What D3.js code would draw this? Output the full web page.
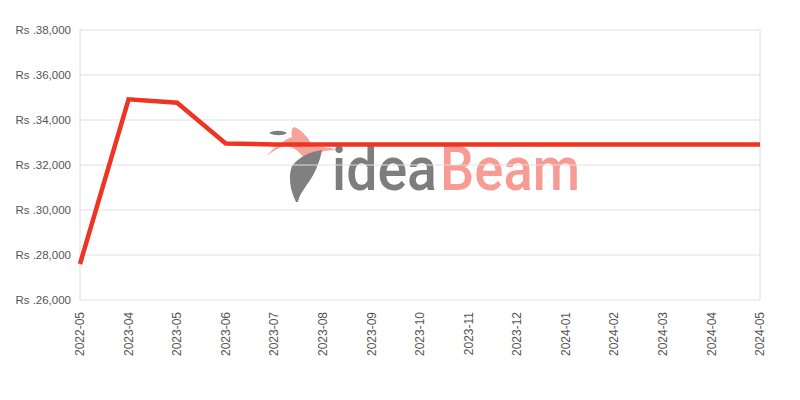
<!DOCTYPE html>
<html lang="en">
<head>
    <meta charset="UTF-8">
    <title>Price History</title>
    <style>
        body {
            margin: 0;
            background-color: white;
            font-family: "Liberation Sans", Arial, sans-serif;
        }
        .tick-label {
            fill: #555;
        }
        .wm-text {
            font-family: Roboto, "DejaVu Sans", sans-serif;
            font-size: 62px;
            font-weight: 500;
        }
    </style>
    <script src="https://d3js.org/d3.v7.min.js"></script>
</head>
<body>
    <div id="chart"></div>
    <script>
        // Months shown on the x axis
        const months = ["2022-05", "2023-04", "2023-05", "2023-06", "2023-07", "2023-08", "2023-09",
                        "2023-10", "2023-11", "2023-12", "2024-01", "2024-02", "2024-03", "2024-04", "2024-05"];

        // Price per month
        const prices = [27600, 34920, 34770, 32960, 32910, 32910, 32910,
                        32910, 32910, 32910, 32910, 32910, 32910, 32910, 32910];

        // Y axis ticks
        const yTicks = [26000, 28000, 30000, 32000, 34000, 36000, 38000];

        const width = 800;
        const height = 400;
        const margin = { top: 30, right: 40, bottom: 100, left: 80 };

        const svg = d3.select("#chart").append("svg")
            .attr("width", width)
            .attr("height", height);

        const x = d3.scalePoint()
            .domain(months)
            .range([margin.left, width - margin.right]);

        const y = d3.scaleLinear()
            .domain([26000, 38000])
            .range([height - margin.bottom, margin.top]);

        // Watermark (logo + name), drawn under the grid
        const wm = svg.append("g").attr("class", "watermark");
        wm.append("path") // bird wing
            .attr("d", "M266,156 C276,146 284,140 292,137 C291,131 292,128 294,127 C302,130 309,138 312,146 C318,147 326,146 336,150 C322,150 314,154 304,158 C298,150 292,146 284,146 C278,148 272,152 266,156 Z")
            .attr("fill", "#f7a39a");
        wm.append("path") // small head
            .attr("d", "M269,133 C274,130 282,130 287,133 C283,136 275,136 269,133 Z")
            .attr("fill", "#7d7d7d");
        wm.append("path") // feather
            .attr("d", "M296,202 C290,190 288,176 292,166 C298,158 308,152 322,150 C320,162 314,176 306,186 C302,192 299,196 298,202 Z")
            .attr("fill", "#808080");
        wm.append("text")
            .attr("class", "wm-text")
            .attr("x", 332)
            .attr("y", 190)
            .attr("textLength", 105)
            .attr("lengthAdjust", "spacingAndGlyphs")
            .attr("fill", "#7d7d7d")
            .text("idea");
        wm.append("text")
            .attr("class", "wm-text")
            .attr("x", 440)
            .attr("y", 190)
            .attr("textLength", 140)
            .attr("lengthAdjust", "spacingAndGlyphs")
            .attr("fill", "#f89c93")
            .text("Beam");

        // Horizontal grid lines
        svg.append("g")
            .selectAll("line")
            .data(yTicks)
            .enter().append("line")
            .attr("x1", margin.left)
            .attr("x2", width - margin.right)
            .attr("y1", d => y(d))
            .attr("y2", d => y(d))
            .attr("stroke", "#e0e0e0")
            .attr("stroke-width", 1);

        // Left and right borders of the plot
        svg.append("g")
            .selectAll("line")
            .data([months[0], months[months.length - 1]])
            .enter().append("line")
            .attr("x1", d => x(d))
            .attr("x2", d => x(d))
            .attr("y1", y(38000))
            .attr("y2", y(26000))
            .attr("stroke", "#dcdcdc")
            .attr("stroke-width", 1);

        // Y axis labels
        svg.append("g")
            .selectAll("text")
            .data(yTicks)
            .enter().append("text")
            .attr("class", "tick-label")
            .attr("x", margin.left - 9)
            .attr("y", d => y(d))
            .attr("dy", "0.35em")
            .attr("text-anchor", "end")
            .style("font-size", "11.5px")
            .text(d => "Rs ." + d3.format(",")(d));

        // X axis labels, rotated
        svg.append("g")
            .selectAll("text")
            .data(months)
            .enter().append("text")
            .attr("class", "tick-label")
            .attr("transform", d => `translate(${x(d)},${height - margin.bottom + 12}) rotate(-90)`)
            .attr("dy", "0.35em")
            .attr("text-anchor", "end")
            .style("font-size", "12px")
            .text(d => d);

        // Price line
        const line = d3.line()
            .x((d, i) => x(months[i]))
            .y(d => y(d));

        svg.append("path")
            .datum(prices)
            .attr("d", line)
            .attr("fill", "none")
            .attr("stroke", "#ee3524")
            .attr("stroke-width", 4.5)
            .attr("stroke-linejoin", "miter");
    </script>
</body>
</html>
